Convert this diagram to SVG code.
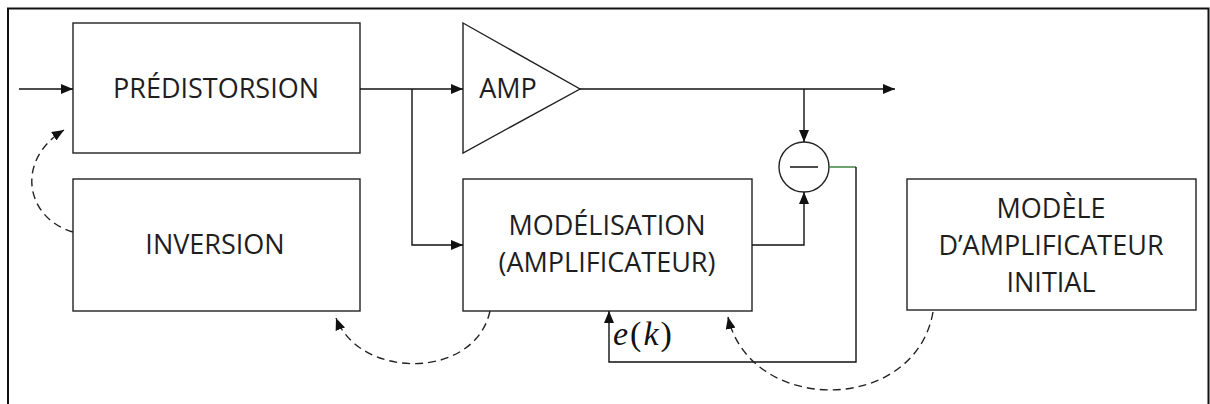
<svg xmlns="http://www.w3.org/2000/svg" width="1210" height="404" viewBox="0 0 1210 404">
  <defs>
    <marker id="arr" viewBox="0 0 12 10" refX="12" refY="5" markerWidth="12" markerHeight="10" markerUnits="userSpaceOnUse" orient="auto">
      <path d="M0,0 L12,5 L0,10 Z" fill="#111"/>
    </marker>
    <style>
      .box { fill: none; stroke: #222; stroke-width: 1.4; }
      .lbl { font-family: "Open Sans", "Liberation Sans", sans-serif; font-size: 27px; fill: #1e1e1e; text-anchor: middle; }
      .wire { fill: none; stroke: #111; stroke-width: 1.4; }
      .dash { fill: none; stroke: #222; stroke-width: 1.4; stroke-dasharray: 8 5; }
      .math { font-family: "Liberation Serif", "DejaVu Serif", serif; font-size: 34px; fill: #111; letter-spacing: 2px; }
    </style>
  </defs>
  <rect x="0" y="0" width="1210" height="404" fill="#fff"/>
  <path d="M8,404 V8.5 H1208.5 V404" fill="none" stroke="#111" stroke-width="2"/>

  <g id="predistorsion">
    <rect class="box" x="73" y="23" width="287" height="130"/>
    <text class="lbl" x="216" y="98">PRÉDISTORSION</text>
  </g>
  <g id="inversion">
    <rect class="box" x="73" y="179" width="287" height="132"/>
    <text class="lbl" x="215" y="254">INVERSION</text>
  </g>
  <g id="amp">
    <path class="box" d="M463,23 L580,89 L463,153 Z"/>
    <text class="lbl" x="508" y="98">AMP</text>
  </g>
  <g id="modelisation">
    <rect class="box" x="463" y="179" width="289" height="132"/>
    <text class="lbl" x="607" y="235">MODÉLISATION</text>
    <text class="lbl" x="607" y="272">(AMPLIFICATEUR)</text>
  </g>
  <g id="soustracteur">
    <circle cx="804" cy="167" r="25" fill="none" stroke="#222" stroke-width="1.4"/>
    <line x1="790" y1="167" x2="818" y2="167" stroke="#222" stroke-width="1.6"/>
  </g>
  <g id="modele-initial">
    <rect class="box" x="907" y="179" width="289" height="131"/>
    <text class="lbl" x="1051" y="218">MODÈLE</text>
    <text class="lbl" x="1051" y="255">D’AMPLIFICATEUR</text>
    <text class="lbl" x="1051" y="292">INITIAL</text>
  </g>

  <g id="connectors">
    <path class="wire" d="M19,89 H73" marker-end="url(#arr)"/>
    <path class="wire" d="M360,89 H463" marker-end="url(#arr)"/>
    <path class="wire" d="M412,89 V245 H463" marker-end="url(#arr)"/>
    <path class="wire" d="M580,89 H895" marker-end="url(#arr)"/>
    <path class="wire" d="M804,89 V142" marker-end="url(#arr)"/>
    <path class="wire" d="M752,245 H804 V192" marker-end="url(#arr)"/>
    <path d="M829,167 H856" fill="none" stroke="#2e7d32" stroke-width="1.4"/>
    <path class="wire" d="M856,167 V362 H609 V311" marker-end="url(#arr)"/>
    <path class="dash" d="M73,232 C25,218 15,160 64,130" marker-end="url(#arr)"/>
    <path class="dash" d="M490,311 C475,380 360,380 336,318" marker-end="url(#arr)"/>
    <path class="dash" d="M933,312 C915,415 750,415 728,317" marker-end="url(#arr)"/>
    <text class="math" x="613" y="345"><tspan font-style="italic">e</tspan>(<tspan font-style="italic">k</tspan>)</text>
  </g>
</svg>
